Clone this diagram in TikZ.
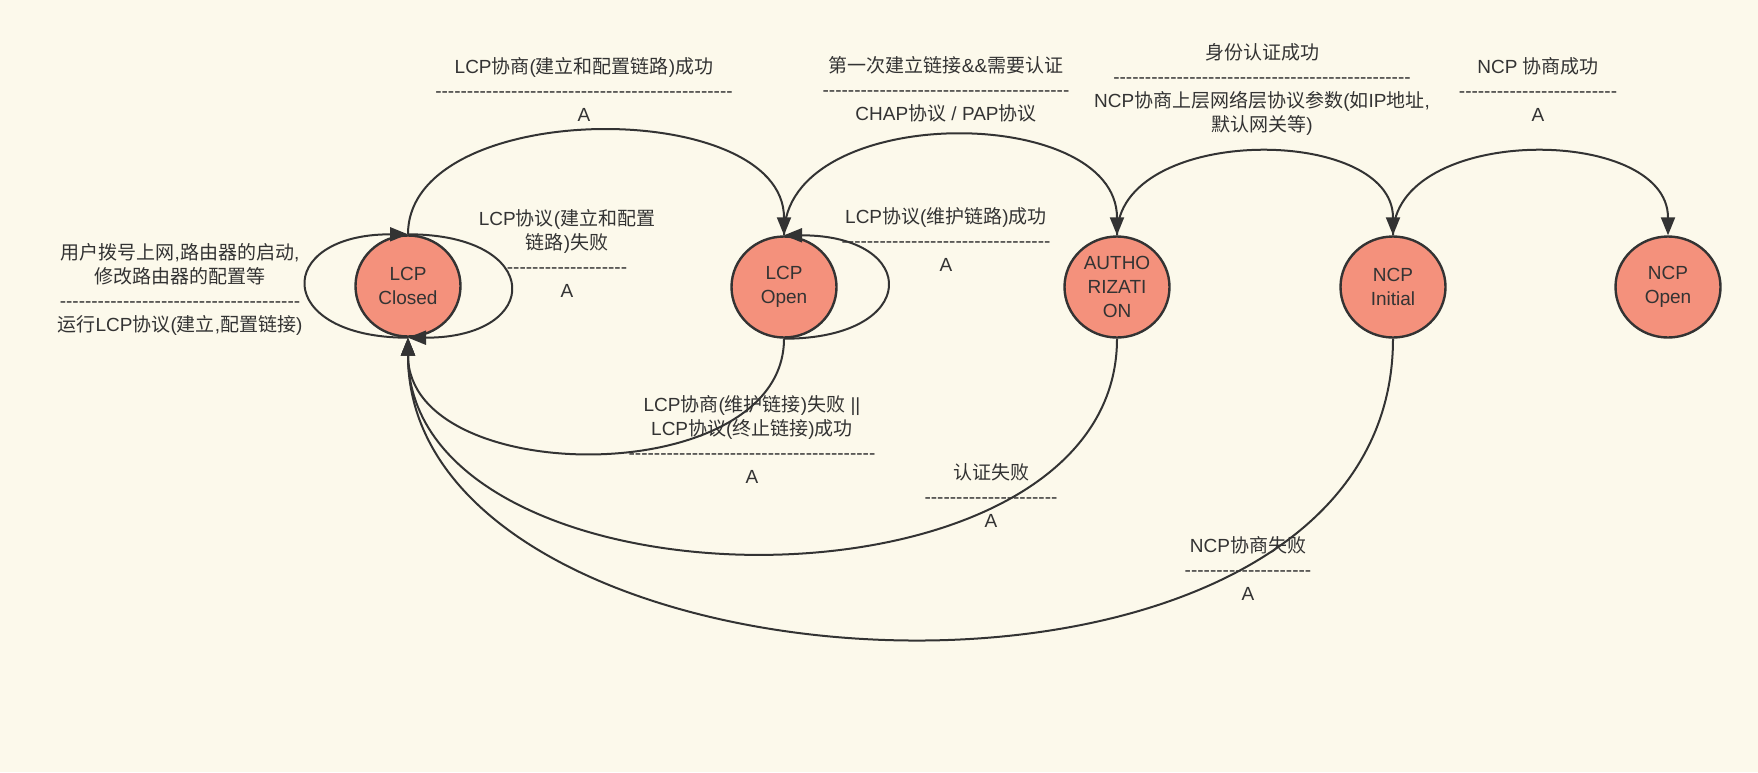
\documentclass[tikz,border=0pt]{standalone}
\usepackage{fontspec}
\setmainfont{Liberation Sans}
\newfontfamily\zh{Noto Sans CJK SC}
\usetikzlibrary{shapes.geometric,arrows.meta}
\definecolor{bgc}{RGB}{252,249,235}
\definecolor{nodefill}{RGB}{244,145,124}
\definecolor{ink}{RGB}{51,51,51}
\ExplSyntaxOn
\NewDocumentCommand\dashrow{m}{\prg_replicate:nn{#1}{-\kern0pt}}
\ExplSyntaxOff
\begin{document}
\begin{tikzpicture}[x=1pt,y=-1pt,
  every node/.style={font=\fontsize{19}{24}\selectfont, text=ink, align=center, inner sep=0pt},
  stnode/.style={ellipse, draw=ink, line width=2.4pt, fill=nodefill, minimum width=105pt, minimum height=101pt},
  edge/.style={draw=ink, line width=2pt, -{Triangle[length=18pt,width=14pt]}}]
\useasboundingbox[fill=bgc] (0,0) rectangle (1758,772);

% states
\node[stnode] (closed) at (408,286) {LCP\\Closed};
\node[stnode] (open) at (784,287) {LCP\\Open};
\node[stnode] (auth) at (1117,287) {AUTHO\\RIZATI\\ON};
\node[stnode] (ncpi) at (1393,287) {NCP\\Initial};
\node[stnode] (ncpo) at (1668,287) {NCP\\Open};

% top transitions
\draw[edge] (closed.north) .. controls +(0,-137) and +(0,-139) .. (open.north);
\draw[edge] (open.north) .. controls +(0,-133) and +(0,-133) .. (auth.north);
\draw[edge] (auth.north) .. controls +(0,-111) and +(0,-111) .. (ncpi.north);
\draw[edge] (ncpi.north) .. controls +(0,-111) and +(0,-111) .. (ncpo.north);

% self loops
\draw[edge] (closed.south) .. controls +(-135,0) and +(-135,0) .. (closed.north);
\draw[edge] (closed.north) .. controls +(136,0) and +(136,0) .. (closed.south);
\draw[edge] (open.south) .. controls +(137,0) and +(137,0) .. (open.north);

% back to closed
\draw[edge] (open.south) .. controls +(0,152) and +(0,152) .. (closed.south);
\draw[edge] (auth.south) .. controls +(0,290) and +(0,282) .. (closed.south);
\draw[edge] (ncpi.south) .. controls +(0,425) and +(0,375) .. (closed.south);

% labels
\node (l1) at (584,89) {LCP{\zh 协商}({\zh 建立和配置链路}){\zh 成功}\\\dashrow{47}\\A};
\node (l2) at (946,89) {{\zh 第一次建立链接}\&\&{\zh 需要认证}\\\dashrow{39}\\CHAP{\zh 协议} / PAP{\zh 协议}};
\node (l3) at (1262,89) {{\zh 身份认证成功}\\\dashrow{47}\\NCP{\zh 协商上层网络层协议参数}({\zh 如}IP{\zh 地址},\\{\zh 默认网关等})};
\node (l4) at (1538,89) {NCP {\zh 协商成功}\\\dashrow{25}\\A};
\node (l5) at (180,289) {{\zh 用户拨号上网},{\zh 路由器的启动},\\{\zh 修改路由器的配置等}\\\dashrow{38}\\{\zh 运行}LCP{\zh 协议}({\zh 建立},{\zh 配置链接})};
\node (l6) at (567,253) {LCP{\zh 协议}({\zh 建立和配置}\\{\zh 链路}){\zh 失败}\\\dashrow{19}\\A};
\node (l7) at (946,239) {LCP{\zh 协议}({\zh 维护链路}){\zh 成功}\\\dashrow{33}\\A};
\node (l8) at (752,439) {LCP{\zh 协商}({\zh 维护链接}){\zh 失败} ||\\LCP{\zh 协议}({\zh 终止链接}){\zh 成功}\\\dashrow{39}\\A};
\node (l9) at (991,496) {{\zh 认证失败}\\\dashrow{21}\\A};
\node (l10) at (1248,568) {NCP{\zh 协商失败}\\\dashrow{20}\\A};
\end{tikzpicture}
\end{document}
